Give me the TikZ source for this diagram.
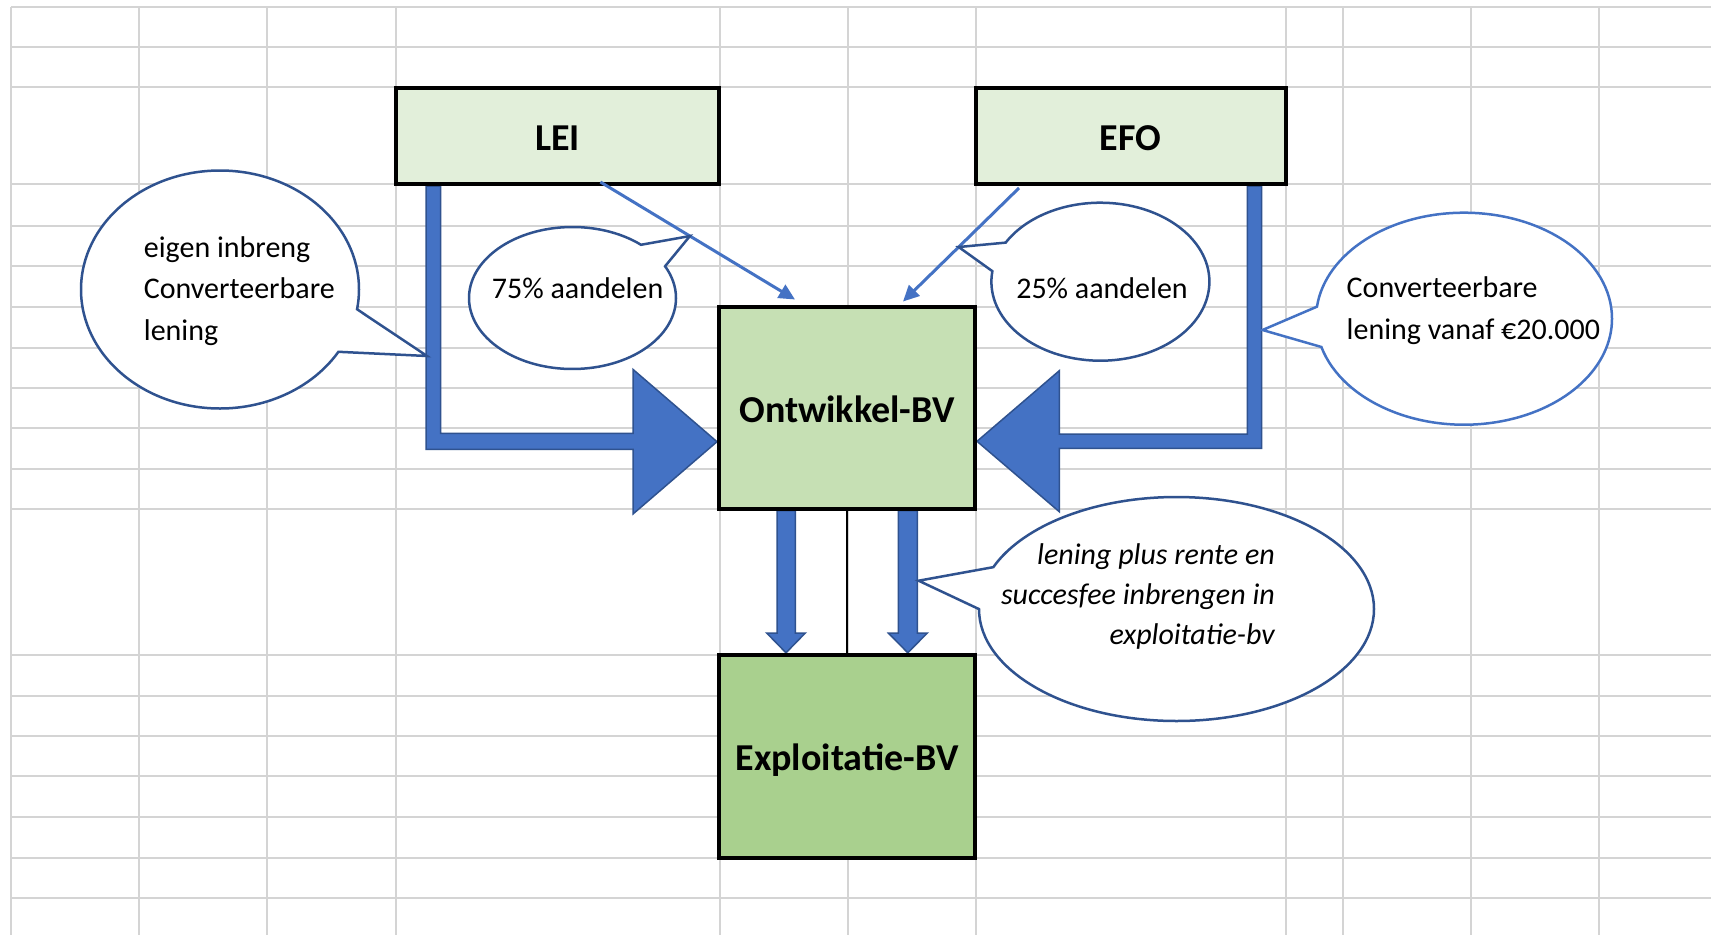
\documentclass[tikz,border=0pt]{standalone}
\usepackage{fontspec}
\setmainfont{Carlito}
\usetikzlibrary{shapes.callouts,arrows.meta,calc,positioning}

\definecolor{gridgray}{HTML}{D4D4D4}
\definecolor{boxlight}{HTML}{E2EFDA}
\definecolor{boxmid}{HTML}{C6E0B4}
\definecolor{boxdark}{HTML}{A9D08E}
\definecolor{flowblue}{HTML}{4472C4}
\definecolor{edgeblue}{HTML}{2F528F}

\pgfdeclarelayer{back}
\pgfsetlayers{back,main}

\begin{document}
\begin{tikzpicture}[x=1pt, y=-1pt,
    company/.style={draw=black, line width=4pt, inner sep=0pt, text height=29pt, text depth=0pt, font=\fontsize{38}{40}\selectfont\bfseries},
    fatarrow/.style={fill=flowblue, draw=edgeblue, line width=1.5pt, line join=miter},
    thinarrow/.style={draw=flowblue, line width=3pt, -{Triangle[length=16pt,width=15pt]}},
    bubble/.style={ellipse callout, draw=edgeblue, fill=white, line width=2.5pt, inner sep=0pt, callout pointer arc=22},
    bubtext/.style={inner sep=0pt, font=\fontsize{30}{41.5}\selectfont},
    gridline/.style={draw=gridgray, line width=2pt}]

    % companies
    \node[company, fill=boxlight, minimum width=323pt, minimum height=96pt] (lei) at (557.4,136) {LEI};
    \node[company, fill=boxlight, minimum width=310pt, minimum height=96pt] (efo) at (1130.5,136) {EFO};
    \node[company, fill=boxmid, minimum width=256pt, minimum height=202pt] (ont) at (847,407.5) {Ontwikkel-BV};
    \node[company, fill=boxdark, minimum width=256pt, minimum height=203pt] (exp) at (847,756.3) {Exploitatie-BV};

    \begin{pgfonlayer}{back}
        \fill[white] (0,0) rectangle (1711,935);
        \useasboundingbox (0,0) rectangle (1711,935);
        % spreadsheet grid
        \foreach \gx in {11,139,267,395.5,720,848,976,1286,1342.6,1471,1598.7} {
            \draw[gridline] (\gx,6.7) -- (\gx,935);
        }
        \foreach \gy in {6.7,46.7,87,184,226,266,307,348,388,428,468.5,509,655,695.5,735.5,776,816.5,858,898.3} {
            \draw[gridline] (11,\gy) -- (1711,\gy);
        }
        % loans into Ontwikkel-BV
        \filldraw[fatarrow] (426,0 |- lei.south) -- (426,449.3) -- (633,449.3) -- (633,514) -- (ont.west |- 0,441.7)
            -- (633,369.4) -- (633,433.3) -- (440.7,433.3) -- (440.7,0 |- lei.south) -- cycle;
        \filldraw[fatarrow] (1261.7,0 |- efo.south) -- (1261.7,448.3) -- (1059.3,448.3) -- (1059.3,511.7) -- (ont.east |- 0,441.3)
            -- (1059.3,370.7) -- (1059.3,434) -- (1247.3,434) -- (1247.3,0 |- efo.south) -- cycle;
        % into Exploitatie-BV
        \filldraw[fatarrow] (777,0 |- ont.south) -- (777,633) -- (766.7,633) -- (786,0 |- exp.north)
            -- (805.3,633) -- (795.3,633) -- (795.3,0 |- ont.south) -- cycle;
        \filldraw[fatarrow] (898.3,0 |- ont.south) -- (898.3,633) -- (888.3,633) -- (907.8,0 |- exp.north)
            -- (927.3,633) -- (917.3,633) -- (917.3,0 |- ont.south) -- cycle;
    \end{pgfonlayer}

    \draw[line width=2pt] (ont) -- (exp);

    % shares
    \draw[thinarrow] ($(lei.south)+(43,-4)$) -- coordinate[pos=0.46] (leipt) ($(ont.north)+(-52,-5)$);
    \draw[thinarrow] ($(efo.south)+(-111.5,2)$) -- coordinate[pos=0.52] (efopt) ($(ont.north)+(56,-3)$);

    % callouts
    \node[bubble, minimum width=278pt, minimum height=238pt, callout absolute pointer={(427,356)}] (bubA) at (220,289.5) {};
    \node[bubtext, anchor=west, align=left] (txtA) at (143.7,291) {eigen inbreng\\Converteerbare\\lening};

    \node[bubble, minimum width=207pt, minimum height=142pt, callout absolute pointer={(leipt)}] (bubB) at (572.5,298) {};
    \node[bubtext] (txtB) at (577.6,288) {75\% aandelen};

    \node[bubble, minimum width=218pt, minimum height=158pt, callout absolute pointer={(efopt)}] (bubC) at (1100.4,281.7) {};
    \node[bubtext] (txtC) at (1102,288) {25\% aandelen};

    \node[bubble, draw=flowblue, minimum width=296pt, minimum height=212pt, callout absolute pointer={(1262.5,330)}] (bubD) at (1464,318.7) {};
    \node[bubtext, anchor=west, align=left] (txtD) at (1346.5,310.5) {Converteerbare\\lening vanaf €20.000};

    \node[bubble, minimum width=395pt, minimum height=224pt, callout absolute pointer={(918.6,580.7)}] (bubE) at (1176.5,609) {};
    \node[bubtext, anchor=east, align=right, font=\fontsize{30}{40}\selectfont\itshape] (txtE) at (1275,596) {lening plus rente en\\succesfee inbrengen in\\exploitatie-bv};
\end{tikzpicture}
\end{document}
